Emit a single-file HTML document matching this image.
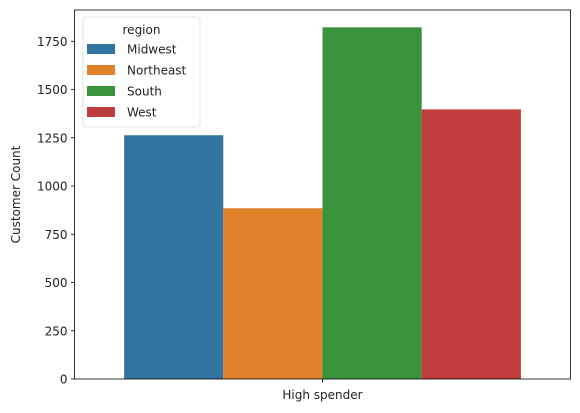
<!DOCTYPE html>
<html><head><meta charset="utf-8"><style>
body{margin:0;background:#fff}
svg{display:block;font-family:"DejaVu Sans","Liberation Sans",sans-serif}
</style></head><body>
<svg id="chart" width="580" height="413"></svg>
<script>
const categories = ["High spender"];
const regions = ["Midwest","Northeast","South","West"];
const counts = [1263, 885, 1822, 1397];
const yTicks = [0,250,500,750,1000,1250,1500,1750];
const colors = ["#3274a1","#e1812c","#3a923a","#c03d3e"];

const NS="http://www.w3.org/2000/svg";
const svg=document.getElementById('chart');
const L=74.5,R=570.5,T=10,B=379;
const yMax=1912;
const y=v=>B-(v/yMax)*(B-T);
const catW=R-L;
const x=i=>L+catW*0.1+i*(catW*0.8/regions.length);
const bw=catW*0.8/regions.length;
function mk(tag,attrs,text){const e=document.createElementNS(NS,tag);for(const k in attrs)e.setAttribute(k,attrs[k]);if(text!==undefined)e.textContent=text;svg.appendChild(e);return e;}

counts.forEach((v,i)=>{
  const r=mk('rect',{x:x(i),y:y(v),width:bw,height:B-y(v),fill:colors[i]});
  
  
});
yTicks.forEach(t=>{
  const l=mk('line',{x1:L-3.5,x2:L,y1:y(t),y2:y(t),stroke:'#000','stroke-width':0.8});
  
  
  const tx=mk('text',{x:L-7,y:y(t)+4.5,'text-anchor':'end','font-size':'12','fill':'#222'},t);
  
  
});
const frame=mk('rect',{x:L,y:T,width:R-L,height:B-T,fill:'none',stroke:'#000','stroke-width':0.8});


const cx=(L+R)/2;
const xt=mk('line',{x1:cx,x2:cx,y1:B,y2:B+3.5,stroke:'#000','stroke-width':0.8});


const xl=mk('text',{x:cx,y:B+20,'text-anchor':'middle','font-size':'12','fill':'#222'},categories[0]);


const yt=mk('text',{x:20,y:(T+B)/2,'text-anchor':'middle','font-size':'12','fill':'#222',transform:`rotate(-90 20 ${(T+B)/2})`},'Customer Count');


const lg=mk('rect',{x:83,y:17,width:117,height:110,rx:3,fill:'#fff','fill-opacity':0.8,stroke:'#ddd','stroke-width':0.8});


const lt=mk('text',{x:141.5,y:34,'text-anchor':'middle','font-size':'12','fill':'#222'},'region');


regions.forEach((r,i)=>{
  const yy=49+i*21;
  const p=mk('rect',{x:87,y:yy-5,width:28,height:10,fill:colors[i]});
  
  
  const t=mk('text',{x:127,y:yy+4.5,'font-size':'12','fill':'#222'},r);
  
  
});
</script>
</body></html>
